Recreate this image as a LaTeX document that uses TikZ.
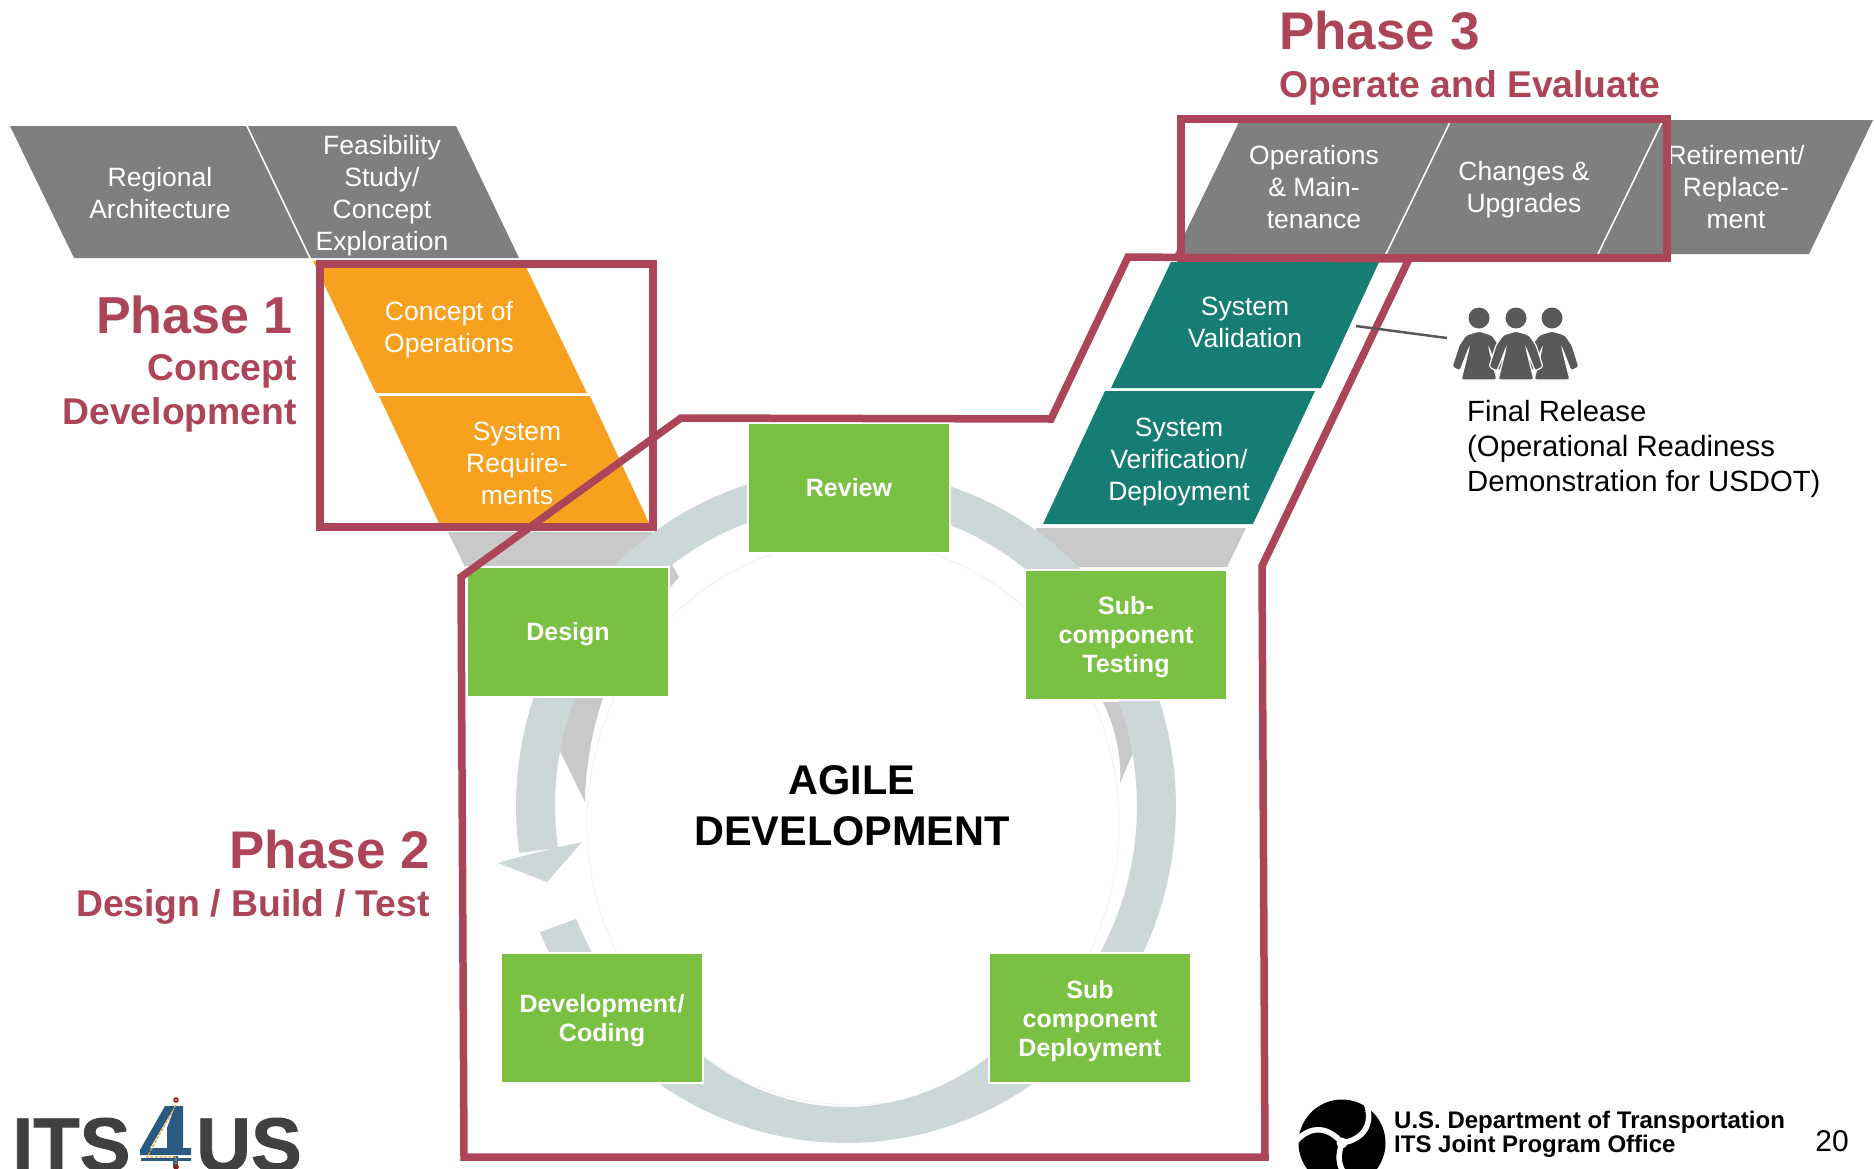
\documentclass[tikz,border=0pt]{standalone}
\usepackage{fontspec}
\setmainfont{Liberation Sans}
\newfontfamily\heavyfont[FakeBold=1.2]{Liberation Sans Bold}
\definecolor{phasered}{HTML}{AD4558}
\definecolor{stepgray}{HTML}{7F7F7F}
\definecolor{steporange}{HTML}{F7A11F}
\definecolor{stepteal}{HTML}{167D74}
\definecolor{stepgreen}{HTML}{7AC143}
\definecolor{ringcol}{HTML}{CBD8D7}
\definecolor{wedgecol}{HTML}{C9C9C9}
\definecolor{peoplecol}{HTML}{595959}
\definecolor{logoblue}{HTML}{2A5A82}
\definecolor{logoamber}{HTML}{E0A030}
\definecolor{logopin}{HTML}{8B1A1A}
\definecolor{logogray}{HTML}{404040}
\tikzset{
  steplabel/.style={inner sep=0pt,align=center,text=white,anchor=base,font=\fontsize{26.5}{32}\selectfont},
  greenbox/.style={fill=stepgreen,draw=white,line width=1.5pt,minimum width=202pt,minimum height=130pt,inner sep=0pt,align=center,text=white,font=\fontsize{25}{29}\selectfont\bfseries,text depth=0pt},
  textdrop/.style={text height=#1*2pt},
  phasetitle/.style={inner sep=0pt,text=phasered,anchor=base,font=\fontsize{53}{60}\selectfont\bfseries},
  phasesub/.style={inner sep=0pt,text=phasered,anchor=base,font=\fontsize{37.3}{45}\selectfont\bfseries},
  phaseline/.style={draw=phasered,line width=7.5pt,line join=miter},
  personshape/.style={fill=peoplecol,draw=white,line width=1.2pt,rounded corners=2.5pt},
}
\newcommand{\personbody}[1]{%
  \path[personshape,shift={(#1,0)}] (0,331) -- (-13,335) -- (-20,345) -- (-27,367) -- (-19,371) -- (-10,348) -- (-18,380) -- (18,380) -- (10,348) -- (19,371) -- (27,367) -- (20,345) -- (13,335) -- cycle;
}
\begin{document}
\begin{tikzpicture}[x=1pt,y=-1pt]
\useasboundingbox (0,0) rectangle (1874,1168);
\clip (0,0) rectangle (1874,1168);
\fill[white] (0,0) rectangle (1874,1168);

% gray funnels and wedges behind the ring
\fill[wedgecol] (448,532) -- (653,532) -- (628,567) -- (465,567) -- cycle;
\fill[wedgecol] (1035,528) -- (1246,528) -- (1227,567) -- (1060,567) -- cycle;
\fill[wedgecol] (570,698) -- (603,698) .. controls (592,730) and (585,770) .. (585,802) -- (558,747) .. controls (560,730) and (565,715) .. (570,698) -- cycle;
\fill[wedgecol] (1103,702) -- (1125,702) -- (1133,753) -- (1120,783) .. controls (1122,755) and (1114,725) .. (1103,702) -- cycle;
\fill[wedgecol] (668,565) -- (672,565) -- (679,577) -- (668,590) -- cycle;

% faint inner circle
\draw[black!8,line width=0.5pt] (853,823) ellipse [x radius=266,y radius=282];

% ring arrow
\fill[ringcol] plot[domain=158:-188,samples=140] ({846+330*cos(\x)},{806+337*sin(\x)})
  -- plot[domain=-188:158,samples=140] ({846+291*cos(\x)},{806+301*sin(\x)-(\x>55)*(\x<125)*12*((\x-90)/30)^2}) -- cycle;
\fill[ringcol] (498,863) -- (547,882) -- (582,842) -- (555,848) -- (519,857) -- cycle;

% green boxes
\node[greenbox,textdrop=8] (review) at (849,488) {Review};
\node[greenbox,textdrop=8] (design) at (568,632) {Design};
\node[greenbox,textdrop=37] (testing) at (1126,635) {Sub-\\component\\Testing};
\node[greenbox,textdrop=38] (deploy) at (1090,1018) {Sub\\component\\Deployment};
\node[greenbox,textdrop=23] (coding) at (602,1018) {Development\kern1pt/\\Coding};

% gray steps
\fill[stepgray] (10,126) -- (246,126) -- (309,258) -- (74,258) -- cycle;
\fill[stepgray] (248,126) -- (456,126) -- (519,258) -- (311,258) -- cycle;
\fill[stepgray] (1240,120) -- (1450,120) -- (1385,254) -- (1175,254) -- cycle;
\fill[stepgray] (1452,120) -- (1662,120) -- (1597,254) -- (1387,254) -- cycle;
\fill[stepgray] (1664,120) -- (1873,120) -- (1809,254) -- (1599,254) -- cycle;
% orange steps
\fill[steporange] (313,261) -- (523,261) -- (587,393) -- (376,393) -- cycle;
\fill[steporange] (379,396) -- (590,396) -- (649,523) -- (439,523) -- cycle;
% teal steps
\fill[stepteal] (1171,262) -- (1379,262) -- (1321,388) -- (1111,388) -- cycle;
\fill[stepteal] (1105,391) -- (1315,391) -- (1253,524) -- (1043,524) -- cycle;

% step labels
\node[steplabel] (regional) at (160,218) {Regional\\Architecture};
\node[steplabel] (feasibility) at (382,250) {Feasibility\\Study/\\Concept\\Exploration};
\node[steplabel] (conops) at (449,352) {Concept of\\Operations};
\node[steplabel] (sysreq) at (517,504) {System\\Require-\\ments};
\node[steplabel] (opsmain) at (1314,228) {Operations\\\& Main-\\tenance};
\node[steplabel] (changes) at (1524,212) {Changes \&\\Upgrades};
\node[steplabel] (retire) at (1736,228) {Retirement/\\Replace-\\ment};
\node[steplabel] (sysval) at (1245,347) {System\\Validation};
\node[steplabel] (sysver) at (1179,500) {System\\Verification/\\Deployment};

% phase outlines
\draw[phaseline] (320,264) rectangle (653,527);
\draw[phaseline] (681,418) -- (1051,419) -- (1128,257) -- (1409,259) -- (1262,566) -- (1265,1157) -- (464,1157) -- (461,577) -- cycle;
\draw[phaseline] (1181,119) rectangle (1667,258);

% phase titles
\node[phasetitle,anchor=base east,font=\fontsize{52}{60}\selectfont\bfseries] (ph1) at (293,333) {Phase 1};
\node[phasesub,anchor=base east] (ph1a) at (297,380) {Concept};
\node[phasesub,anchor=base east] (ph1b) at (297,424) {Development};
\node[phasetitle,anchor=base east] (ph2) at (430,868) {Phase 2};
\node[phasesub,anchor=base east] (ph2a) at (430,916) {Design / Build / Test};
\node[phasetitle,anchor=base west] (ph3) at (1279,49) {Phase 3};
\node[phasesub,anchor=base west] (ph3a) at (1279,97) {Operate and Evaluate};

% centre text
\node[inner sep=0pt,align=center,anchor=base,font=\fontsize{41.5}{51}\selectfont\bfseries] (agile) at (852,845) {AGILE\\DEVELOPMENT};

% final release
\coordinate (relstart) at (1356,326);
\coordinate (relend) at (1447,338);
\draw[peoplecol,line width=2.5pt] (relstart) -- (relend);
\fill[peoplecol] (1479,318) circle (10.5);
\fill[peoplecol] (1516,318) circle (10.5);
\fill[peoplecol] (1552,318) circle (10.5);
\personbody{1479}
\personbody{1552}
\personbody{1516}
\node[inner sep=0pt,align=left,anchor=base west,font=\fontsize{29.3}{35}\selectfont] (final) at (1467,491) {Final Release\\(Operational Readiness\\Demonstration for USDOT)};

% ITS4US logo
\node[inner sep=0pt,anchor=base west,text=logogray,font=\fontsize{76}{80}\heavyfont] (its) at (12,1171) {ITS};
\node[inner sep=0pt,anchor=base west,text=logogray,font=\fontsize{76}{80}\heavyfont] (us) at (196,1171) {US};
\fill[logoblue] (165,1106) -- (175,1106) -- (150,1148) -- (191,1148) -- (191,1155) -- (140,1155) -- (140,1150) -- cycle;
\fill[logoblue] (175,1106) -- (183,1106) -- (183,1148) -- (167,1148) -- (167,1128) -- cycle;
\fill[logoblue] (141,1158) rectangle (191,1161);
\fill[logoblue] (173,1156) rectangle (178,1168);
\draw[logoamber,line width=1.2pt,dash pattern=on 3pt off 1.5pt] (176,1105) -- (147,1157) -- (176,1157) -- (176,1166);
\fill[logopin] (176,1100) circle (2.8);
\fill[white] (176,1100) circle (1);
\fill[logopin] (176,1167) circle (2.8);

% DOT logo
\fill[black] (1342,1143) circle (43.5);
\foreach \a in {0,120,240}{
  \draw[white,line width=5.5pt,rotate around={\a:(1342,1143)}] (1342,1143) .. controls (1366,1139) and (1375,1121) .. (1364,1098);
}
\fill[white] (1342,1143) circle (5.5);

% footer text
\node[inner sep=0pt,align=left,anchor=base west,font=\fontsize{24}{24}\selectfont\bfseries] (dot) at (1394,1152) {U.S. Department of Transportation\\ITS Joint Program Office};
\node[inner sep=0pt,anchor=base east,font=\fontsize{30}{30}\selectfont] (pagenum) at (1849,1151) {20};
\end{tikzpicture}
\end{document}
